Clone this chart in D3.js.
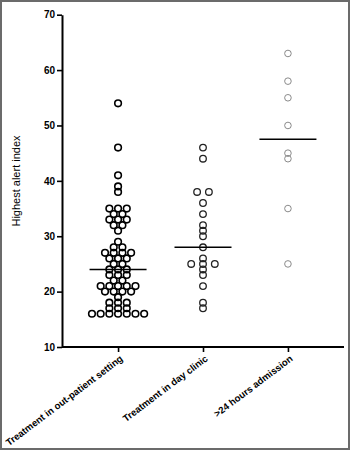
<!DOCTYPE html>
<html>
<head>
<meta charset="utf-8">
<script src="https://cdn.jsdelivr.net/npm/d3@7"></script>
<style>
html,body{margin:0;padding:0;background:#fff;}
svg{display:block;}
</style>
</head>
<body>
<svg id="chart" width="350" height="450"></svg>
<script>
const categories = ["Treatment in out-patient setting", "Treatment in day clinic", ">24 hours admission"];
const outpatient = [54,46,41,39,38,35,35,35,34,34,33,33,33,32,32,31,29,28,28,27,27,27,27,26,26,26,25,25,24,24,24,23,23,23,22,22,21,21,21,21,21,20,20,20,20,19,18,18,18,17,17,17,16,16,16,16,16,16,16];
const dayClinic = [46,44,38,38,36,34,32,31,30,28,26,25,25,25,24,23,21,18,17];
const admission = [63,58,55,50,45,44,35,25];
const medians = [24, 28, 47.5];
const yTicks = [10,20,30,40,50,60,70];

const groups = [outpatient, dayClinic, admission];
const colors = ["#000000", "#222222", "#8a8a8a"];
const strokeW = [1.6, 1.3, 1.0];
const spacing = [8.7, 11.8, 8];

const svg = d3.select("#chart");
svg.append("rect").attr("x",1).attr("y",1).attr("width",348).attr("height",448)
  .attr("fill","#fff").attr("stroke","#6b6b6b").attr("stroke-width",2);

const x = d3.scalePoint().domain(categories).range([62,344]).padding(0.66);
const y = d3.scaleLinear().domain([10,70]).range([347,14.7]);

// y axis
const ya = svg.append("g").attr("transform","translate(62,0)")
  .call(d3.axisLeft(y).tickValues(yTicks).tickSize(5).tickSizeOuter(0).tickPadding(2));
ya.select(".domain").attr("stroke","#000").attr("stroke-width",2);
ya.selectAll(".tick line").attr("stroke","#000").attr("stroke-width",1.6);
ya.selectAll(".tick text").attr("font-family","Liberation Sans, Arial, sans-serif")
  .attr("font-size",10).attr("font-weight","bold").attr("fill","#000");

// x axis
const xa = svg.append("g").attr("transform","translate(0,347)")
  .call(d3.axisBottom(x).tickSize(5).tickSizeOuter(0));
xa.select(".domain").attr("stroke","#000").attr("stroke-width",2)
  .attr("d","M62,0H344");
xa.selectAll(".tick line").attr("stroke","#000").attr("stroke-width",1.6);
xa.selectAll(".tick text")
  .attr("font-family","Liberation Sans, Arial, sans-serif")
  .attr("font-size",9.6).attr("font-weight","bold").attr("fill","#000")
  .attr("text-anchor","end")
  .attr("dy",0)
  .attr("transform","translate(5,13) rotate(-37)")
  .attr("y",0).attr("x",0);

// y title
svg.append("text")
  .attr("transform","translate(20,181) rotate(-90)")
  .attr("text-anchor","middle")
  .attr("font-family","Liberation Sans, Arial, sans-serif")
  .attr("font-size",11).attr("fill","#000")
  .text("Highest alert index");

// points (symmetric swarm rows)
groups.forEach((vals, gi) => {
  const counts = d3.rollup(vals, v => v.length, d => d);
  const seen = new Map();
  const pts = vals.map(v => {
    const n = counts.get(v);
    const i = seen.get(v) || 0; seen.set(v, i+1);
    return {v, off: (i - (n-1)/2) * spacing[gi]};
  });
  svg.append("g").selectAll("circle").data(pts).join("circle")
    .attr("cx", d => x(categories[gi]) + d.off)
    .attr("cy", d => y(d.v))
    .attr("r", 3.3)
    .attr("fill","none")
    .attr("stroke", colors[gi])
    .attr("stroke-width", strokeW[gi]);
  svg.append("line")
    .attr("x1", x(categories[gi]) - 28.5).attr("x2", x(categories[gi]) + 28.5)
    .attr("y1", y(medians[gi])).attr("y2", y(medians[gi]))
    .attr("stroke","#000").attr("stroke-width",1.5);
});
</script>
</body>
</html>
